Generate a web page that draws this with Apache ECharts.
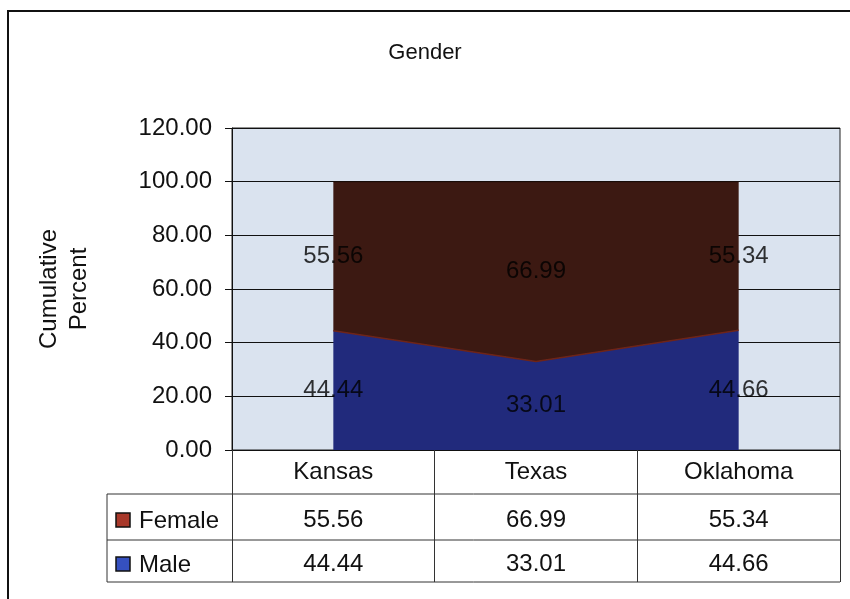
<!DOCTYPE html>
<html>
<head>
<meta charset="utf-8">
<script src="https://cdn.jsdelivr.net/npm/echarts@6/dist/echarts.min.js"></script>
<style>
  html, body { margin: 0; padding: 0; background: #fff; }
  #gender { width: 850px; height: 599px; }
</style>
</head>
<body>
<div id="gender"></div>
<script>
const states = ['Kansas', 'Texas', 'Oklahoma'];
const seriesNames = ['Female', 'Male'];
const female = [55.56, 66.99, 55.34];
const male = [44.44, 33.01, 44.66];

const chartDom = document.getElementById('gender');
const genderChart = echarts.init(chartDom);

const font = 'Liberation Sans, Arial, sans-serif';
const maleFill = '#212a7c';
const femaleFill = '#3c1912';
const fs = 24;

// grid box (pixels)
const gLeft = 232, gRight = 840, gTop = 128, gBottom = 450;
// data table rows below the axis
const rowLines = [494, 540, 582];
const tableLeft = 107;

// label points sit in the middle of each stacked band
const maleMid = male.map((v, i) => [i, v / 2]);
const femaleMid = female.map((v, i) => [i, male[i] + v / 2]);

const rowAxis = (values, offset) => ({
  type: 'category',
  data: states,
  position: 'bottom',
  offset: offset,
  gridIndex: 0,
  axisLine: { show: false },
  axisTick: { show: false },
  axisLabel: {
    margin: 12,
    fontSize: fs,
    color: '#111',
    fontFamily: font,
    formatter: (v, i) => values[i].toFixed(2)
  }
});

const option = {
  animation: false,
  textStyle: { fontFamily: font },
  title: {
    text: 'Gender',
    left: 'center',
    top: 37,
    textStyle: { fontSize: 22, fontWeight: 'normal', color: '#111', fontFamily: font }
  },
  grid: {
    left: gLeft,
    right: 850 - gRight,
    top: gTop,
    bottom: 599 - gBottom,
    show: true,
    backgroundColor: '#dae3ef',
    borderColor: '#222',
    borderWidth: 1
  },
  xAxis: [
    {
      type: 'category',
      data: states,
      boundaryGap: true,
      axisLine: { lineStyle: { color: '#111', width: 1 } },
      axisTick: { show: true, length: rowLines[2] - gBottom, interval: 0, lineStyle: { color: '#333' } },
      axisLabel: { margin: 10, fontSize: fs, color: '#111', fontFamily: font }
    },
    rowAxis(female, 46),
    rowAxis(male, 90)
  ],
  yAxis: {
    type: 'value',
    min: 0,
    max: 120,
    interval: 20,
    name: 'Cumulative\nPercent',
    nameLocation: 'middle',
    nameRotate: 90,
    nameGap: 138,
    nameTextStyle: { fontSize: fs, color: '#111', lineHeight: 30, fontFamily: font },
    axisLine: { show: true, lineStyle: { color: '#111' } },
    axisTick: { show: true, length: 7, lineStyle: { color: '#111' } },
    axisLabel: {
      fontSize: fs,
      color: '#111',
      margin: 20,
      fontFamily: font,
      formatter: v => v.toFixed(2)
    },
    splitLine: { show: true, lineStyle: { color: '#111', width: 1 } }
  },
  series: [
    {
      name: 'Male',
      type: 'line',
      stack: 'Total',
      data: male,
      symbol: 'none',
      lineStyle: { color: '#6e2418', width: 1.5 },
      areaStyle: { color: maleFill, opacity: 1 },
      z: 2
    },
    {
      name: 'Female',
      type: 'line',
      stack: 'Total',
      data: female,
      symbol: 'none',
      lineStyle: { color: '#1a0c08', width: 1 },
      areaStyle: { color: femaleFill, opacity: 1 },
      z: 2
    },
    {
      name: 'Male labels',
      type: 'scatter',
      data: maleMid,
      symbolSize: 0,
      silent: true,
      z: 5,
      label: {
        show: true,
        position: 'inside',
        fontSize: fs,
        color: '#000',
        formatter: p => male[p.dataIndex].toFixed(2)
      }
    },
    {
      name: 'Female labels',
      type: 'scatter',
      data: femaleMid,
      symbolSize: 0,
      silent: true,
      z: 5,
      label: {
        show: true,
        position: 'inside',
        fontSize: fs,
        color: '#000',
        formatter: p => female[p.dataIndex].toFixed(2)
      }
    }
  ],
  graphic: [
    // outer chart frame
    { type: 'rect', shape: { x: 8, y: 11, width: 900, height: 700 }, style: { fill: 'none', stroke: '#111', lineWidth: 2 }, silent: true },
    // table lines
    ...rowLines.map(y => ({ type: 'line', shape: { x1: tableLeft, y1: y, x2: gRight, y2: y }, style: { stroke: '#333', lineWidth: 1 }, silent: true })),
    { type: 'line', shape: { x1: tableLeft, y1: rowLines[0], x2: tableLeft, y2: rowLines[2] }, style: { stroke: '#333', lineWidth: 1 }, silent: true },
    // legend keys in table
    ...seriesNames.map((n, k) => {
      const cy = (rowLines[k] + rowLines[k + 1]) / 2 + 3;
      return {
        type: 'group',
        silent: true,
        children: [
          { type: 'rect', shape: { x: 116, y: cy - 7, width: 14, height: 14 }, style: { fill: k === 0 ? '#a8382a' : '#3550c0', stroke: '#111', lineWidth: 1.5 } },
          { type: 'text', x: 139, y: cy + 1, style: { text: n, fontSize: fs, fill: '#111', fontFamily: font, verticalAlign: 'middle' } }
        ]
      };
    })
  ]
};

genderChart.setOption(option);
</script>
</body>
</html>
